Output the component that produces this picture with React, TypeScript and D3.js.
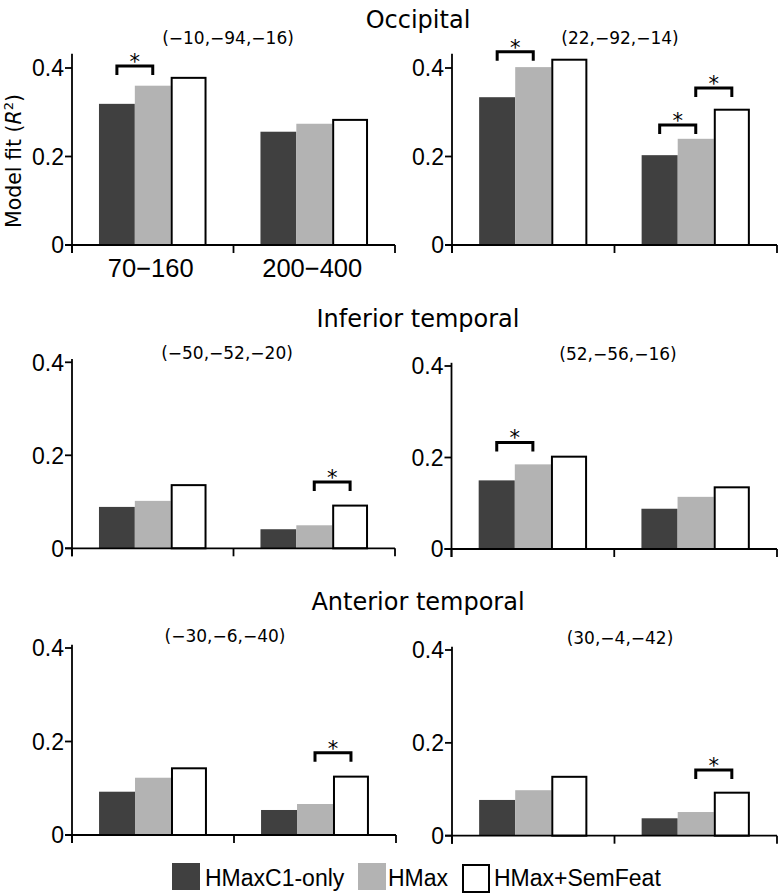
import React from "react";
import * as d3 from "d3";

// ---------- data ----------
const seriesNames = ["HMaxC1-only", "HMax", "HMax+SemFeat"];
const seriesColors = ["#404040", "#b3b3b3", "#ffffff"];
const freqBands = ["70−160", "200−400"];
const regionTitles = ["Occipital", "Inferior temporal", "Anterior temporal"];
const peakCoords = [
  "(−10,−94,−16)",
  "(22,−92,−14)",
  "(−50,−52,−20)",
  "(52,−56,−16)",
  "(−30,−6,−40)",
  "(30,−4,−42)",
];
const yTickValues = [0, 0.2, 0.4];
const yTickLabels = ["0", "0.2", "0.4"];

// values[band][series]
const occipitalLeft = [
  [0.319, 0.36, 0.38],
  [0.256, 0.274, 0.285],
];
const occipitalRight = [
  [0.334, 0.402, 0.421],
  [0.203, 0.24, 0.308],
];
const inferiorLeft = [
  [0.089, 0.102, 0.138],
  [0.041, 0.0495, 0.094],
];
const inferiorRight = [
  [0.15, 0.185, 0.204],
  [0.088, 0.114, 0.137],
];
const anteriorLeft = [
  [0.0926, 0.1225, 0.1448],
  [0.0535, 0.0663, 0.127],
];
const anteriorRight = [
  [0.077, 0.098, 0.129],
  [0.0375, 0.051, 0.0948],
];

// significance brackets: [band index, from series, to series, bracket level]
const sigOccipitalLeft = [[0, 0, 1, 0.4045]];
const sigOccipitalRight = [
  [0, 0, 1, 0.437],
  [1, 0, 1, 0.271],
  [1, 1, 2, 0.355],
];
const sigInferiorLeft = [[1, 1, 2, 0.1426]];
const sigInferiorRight = [[0, 0, 1, 0.233]];
const sigAnteriorLeft = [[1, 1, 2, 0.176]];
const sigAnteriorRight = [[1, 1, 2, 0.1415]];

// ---------- layout ----------
const FONT = "'DejaVu Sans', sans-serif";
const FONT2 = "'Liberation Sans', Arial, sans-serif";

const panels = [
  { values: occipitalLeft, sig: sigOccipitalLeft, coord: peakCoords[0], x0: 72, x1: 395, y0: 245, y4: 68, yTop: 0.432, cx: 228, cy: 43.5, bandLabels: true },
  { values: occipitalRight, sig: sigOccipitalRight, coord: peakCoords[1], x0: 452, x1: 777, y0: 245, y4: 68, yTop: 0.432, cx: 620, cy: 44, bandLabels: false },
  { values: inferiorLeft, sig: sigInferiorLeft, coord: peakCoords[2], x0: 72, x1: 395, y0: 548.3, y4: 362.3, yTop: 0.407, cx: 227, cy: 358.5, bandLabels: false },
  { values: inferiorRight, sig: sigInferiorRight, coord: peakCoords[3], x0: 451.5, x1: 777, y0: 549, y4: 366, yTop: 0.407, cx: 618, cy: 359.5, bandLabels: false },
  { values: anteriorLeft, sig: sigAnteriorLeft, coord: peakCoords[4], x0: 72, x1: 396, y0: 835, y4: 648, yTop: 0.407, cx: 225, cy: 642, bandLabels: false },
  { values: anteriorRight, sig: sigAnteriorRight, coord: peakCoords[5], x0: 452, x1: 777, y0: 835.7, y4: 650, yTop: 0.407, cx: 620, cy: 643.5, bandLabels: false },
];

const titleYs = [28, 326.7, 610];

function Panel({ p }: { p: any }) {
  const xBand = d3
    .scaleBand<string>()
    .domain(freqBands)
    .range([p.x0, p.x1])
    .paddingInner(0.334)
    .paddingOuter(0.167);
  const xSeries = d3
    .scaleBand<string>()
    .domain(seriesNames)
    .range([0, xBand.bandwidth()]);
  const y = d3.scaleLinear().domain([0, 0.4]).range([p.y0, p.y4]);
  const bw = xSeries.bandwidth();
  const step = xBand.step();
  const xTicks = [0, 1, 2].map((i) => p.x0 + step * i);

  return (
    <g>
      {/* bars */}
      {freqBands.map((b, bi) =>
        seriesNames.map((s, si) => {
          const v = p.values[bi][si];
          const bx = (xBand(b) as number) + (xSeries(s) as number);
          const by = y(v);
          if (si === 2) {
            return (
              <rect
                key={b + s}
                x={bx + 1}
                y={by + 1}
                width={bw - 2}
                height={p.y0 - by - 1}
                fill="#fff"
                stroke="#000"
                strokeWidth={2}
              />
            );
          }
          return (
            <rect
              key={b + s}
              x={bx}
              y={by}
              width={bw}
              height={p.y0 - by}
              fill={seriesColors[si]}
            />
          );
        })
      )}
      {/* brackets */}
      {p.sig.map((sg: number[], i: number) => {
        const [bi, a, c, lvl] = sg;
        const base = xBand(freqBands[bi]) as number;
        const xa = base + (xSeries(seriesNames[a]) as number) + bw / 2;
        const xb = base + (xSeries(seriesNames[c]) as number) + bw / 2;
        const top = y(lvl);
        return (
          <g key={"sig" + i}>
            <path
              d={`M${xa},${top + 9}V${top}H${xb}V${top + 9}`}
              fill="none"
              stroke="#000"
              strokeWidth={3}
            />
            <text
              x={(xa + xb) / 2}
              y={top + 3}
              textAnchor="middle"
              fontFamily={FONT}
              fontSize={21}
              fill="#000"
            >
              *
            </text>
          </g>
        );
      })}
      {/* y axis */}
      <line x1={p.x0} x2={p.x0} y1={y(p.yTop)} y2={p.y0 + 8} stroke="#000" strokeWidth={1.8} />
      {yTickValues.map((t, i) => (
        <g key={"yt" + i}>
          <line x1={p.x0 - 7} x2={p.x0} y1={y(t)} y2={y(t)} stroke="#000" strokeWidth={1.8} />
          <text
            x={p.x0 - 8}
            y={y(t)}
            dy="0.36em"
            textAnchor="end"
            fontFamily={FONT2}
            fontSize={23}
          >
            {yTickLabels[i]}
          </text>
        </g>
      ))}
      {/* x axis */}
      <line x1={p.x0 - 7} x2={p.x1} y1={p.y0} y2={p.y0} stroke="#000" strokeWidth={1.8} />
      {xTicks.map((t, i) => (
        <line key={"xt" + i} x1={t} x2={t} y1={p.y0} y2={p.y0 + 8} stroke="#000" strokeWidth={1.8} />
      ))}
      {p.bandLabels &&
        freqBands.map((b) => (
          <text
            key={"bl" + b}
            x={(xBand(b) as number) + xBand.bandwidth() / 2 - 2}
            y={277}
            textAnchor="middle"
            fontFamily={FONT2}
            fontSize={25.5}
          >
            {b}
          </text>
        ))}
      <text x={p.cx} y={p.cy} textAnchor="middle" fontFamily={FONT} fontSize={17}>
        {p.coord}
      </text>
    </g>
  );
}

export default function App() {
  const legendItems = [
    { sx: 172, tx: 205 },
    { sx: 358, tx: 388 },
    { sx: 462, tx: 494 },
  ];
  return (
    <svg
      width={780}
      height={896}
      style={{ position: "absolute", left: 0, top: 0, background: "#fff" }}
    >
      <rect x={0} y={0} width={780} height={896} fill="#fff" />
      {regionTitles.map((t, i) => (
        <text key={t} x={418} y={titleYs[i]} textAnchor="middle" fontFamily={FONT} fontSize={24}>
          {t}
        </text>
      ))}
      {panels.map((p, i) => (
        <Panel key={i} p={p} />
      ))}
      <text
        transform="translate(21,161) rotate(-90)"
        textAnchor="middle"
        fontFamily={FONT}
        fontSize={20.5}
      >
        Model fit (<tspan fontStyle="italic">R</tspan>
        <tspan dy={-8} fontSize={13}>2</tspan>
        <tspan dy={8}>)</tspan>
      </text>
      {/* legend */}
      {seriesNames.map((s, i) => (
        <g key={"lg" + s}>
          <rect
            x={legendItems[i].sx + (i === 2 ? 1 : 0)}
            y={i === 2 ? 865 : 863}
            width={i === 2 ? 26 : 28}
            height={27}
            fill={seriesColors[i]}
            stroke={i === 2 ? "#000" : "none"}
            strokeWidth={2}
          />
          <text x={legendItems[i].tx} y={886} fontFamily={FONT2} fontSize={23}>
            {s}
          </text>
        </g>
      ))}
    </svg>
  );
}
